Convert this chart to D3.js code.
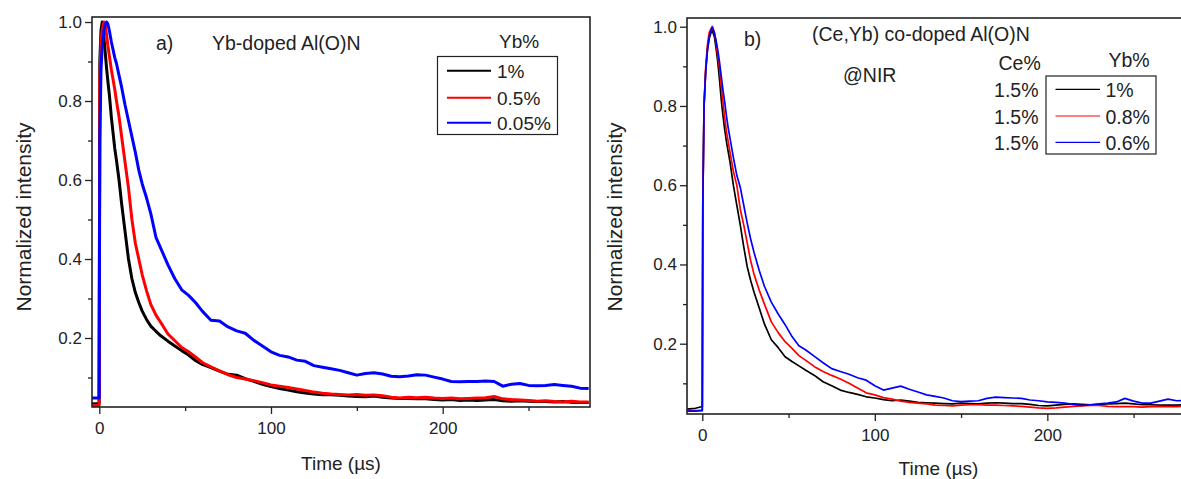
<!DOCTYPE html>
<html><head><meta charset="utf-8">
<script src="https://cdn.jsdelivr.net/npm/d3@7"></script>
<style>
html,body{margin:0;padding:0;background:#fff;}
svg text{font-family:Arial,"Liberation Sans",sans-serif;fill:#222;}
</style></head>
<body><svg id="c" width="1181" height="479"></svg>
<script>
// ---------- Panel a data: Yb-doped Al(O)N ----------
const timeA = [-4.2,-0.1,0.3,1,1.7,2.7,3.5,4.3,5,6,7,8,9,10,11.5,13,15,17,19,21,23,25,27.5,30,33,36,40,44,48,52,56,60,65,70,75,80,85,90,95,100,105,110,115,120,125,130,135,140,145,150,155,160,165,170,175,180,185,190,195,200,205,210,215,220,225,230,235,240,245,250,255,260,265,270,275,280,285];
const ybA_1 = [0.033,0.034,0.90,0.98,1.0,0.96,0.92,0.88,0.85,0.81,0.76,0.72,0.68,0.65,0.60,0.54,0.47,0.40,0.35,0.315,0.29,0.268,0.247,0.23,0.217,0.205,0.192,0.18,0.168,0.157,0.143,0.133,0.125,0.116,0.108,0.106,0.097,0.09,0.083,0.077,0.072,0.068,0.064,0.061,0.058,0.056,0.056,0.055,0.053,0.052,0.051,0.053,0.05,0.048,0.047,0.047,0.046,0.046,0.044,0.043,0.044,0.042,0.043,0.042,0.043,0.044,0.041,0.040,0.041,0.040,0.039,0.039,0.038,0.039,0.037,0.037,0.037];
const ybA_05 = [0.029,0.029,0.85,0.95,0.98,1.0,0.99,0.965,0.94,0.91,0.88,0.855,0.83,0.80,0.76,0.71,0.645,0.58,0.50,0.44,0.40,0.36,0.32,0.285,0.258,0.238,0.21,0.193,0.176,0.165,0.152,0.138,0.127,0.117,0.107,0.10,0.096,0.092,0.087,0.081,0.078,0.075,0.071,0.067,0.063,0.06,0.058,0.057,0.056,0.057,0.055,0.056,0.054,0.05,0.048,0.05,0.049,0.05,0.048,0.047,0.048,0.046,0.047,0.048,0.049,0.052,0.046,0.044,0.043,0.042,0.040,0.041,0.039,0.038,0.040,0.038,0.038];
const ybA_005 = [0.048,0.048,0.70,0.88,0.94,0.98,0.995,1.0,0.995,0.975,0.95,0.93,0.91,0.895,0.865,0.835,0.79,0.75,0.71,0.67,0.625,0.59,0.555,0.515,0.455,0.425,0.385,0.35,0.322,0.308,0.29,0.268,0.245,0.243,0.228,0.218,0.212,0.194,0.18,0.165,0.156,0.152,0.144,0.141,0.13,0.126,0.122,0.118,0.112,0.106,0.11,0.112,0.109,0.103,0.102,0.104,0.107,0.106,0.101,0.096,0.09,0.089,0.09,0.09,0.091,0.09,0.078,0.083,0.085,0.08,0.079,0.08,0.082,0.08,0.078,0.073,0.072];
const namesA = ["1%","0.5%","0.05%"];

// ---------- Panel b data: (Ce,Yb) co-doped Al(O)N ----------
const timeB = [-8.8,-4,-0.5,0,0.3,1,2,3,4,5,5.8,7,8,9,10,11,12,13,14,15,16,18,20,22,24,26,28,30,33,36,40,44,48,52,56,60,65,70,75,80,85,90,95,100,105,110,115,120,125,130,135,140,145,150,155,160,165,170,175,180,185,190,195,200,205,210,215,220,225,230,235,240,245,250,255,260,265,270,275,280,285];
const ybB_1 = [0.035,0.037,0.041,0.041,0.55,0.80,0.89,0.94,0.97,0.985,0.99,0.975,0.945,0.91,0.865,0.815,0.775,0.74,0.71,0.685,0.66,0.60,0.55,0.50,0.445,0.395,0.36,0.33,0.29,0.25,0.21,0.19,0.167,0.155,0.144,0.133,0.12,0.104,0.094,0.083,0.077,0.072,0.066,0.063,0.059,0.056,0.058,0.055,0.052,0.051,0.05,0.049,0.048,0.05,0.049,0.048,0.05,0.051,0.05,0.049,0.049,0.047,0.044,0.043,0.045,0.047,0.048,0.047,0.046,0.047,0.048,0.049,0.05,0.048,0.046,0.046,0.045,0.045,0.045,0.046,0.045];
const ybB_08 = [0.03,0.031,0.032,0.032,0.55,0.80,0.90,0.955,0.985,0.995,1.0,0.985,0.96,0.925,0.895,0.85,0.81,0.77,0.735,0.71,0.685,0.635,0.60,0.54,0.50,0.455,0.41,0.375,0.335,0.30,0.255,0.228,0.205,0.188,0.17,0.158,0.142,0.13,0.12,0.111,0.10,0.088,0.076,0.071,0.064,0.06,0.055,0.052,0.05,0.048,0.045,0.044,0.043,0.045,0.046,0.046,0.045,0.045,0.044,0.043,0.042,0.04,0.038,0.037,0.038,0.04,0.042,0.043,0.044,0.044,0.042,0.041,0.041,0.041,0.04,0.041,0.042,0.041,0.041,0.042,0.041];
const ybB_06 = [0.03,0.03,0.031,0.031,0.55,0.80,0.89,0.945,0.975,0.99,1.0,0.985,0.965,0.94,0.91,0.875,0.84,0.81,0.775,0.745,0.72,0.67,0.625,0.595,0.55,0.505,0.465,0.43,0.385,0.345,0.305,0.275,0.248,0.218,0.195,0.184,0.168,0.152,0.137,0.13,0.123,0.114,0.108,0.094,0.083,0.088,0.093,0.085,0.078,0.071,0.067,0.063,0.056,0.054,0.055,0.056,0.062,0.065,0.064,0.063,0.062,0.058,0.056,0.053,0.052,0.05,0.047,0.044,0.046,0.048,0.05,0.053,0.062,0.055,0.05,0.05,0.055,0.06,0.056,0.057,0.056];
const namesB = ["1%","0.8%","0.6%"];
const ceB = ["1.5%","1.5%","1.5%"];

const colors = ["#000000","#ff0000","#0000ff"];
const yMajor = [0.2,0.4,0.6,0.8,1.0];
const yMinor = [0.1,0.3,0.5,0.7,0.9];
const xMajor = [0,100,200];
const xMinor = [50,150,250];

const svg = d3.select("#c");
const FONT_TICK = 17;

function panel(o){
  const g = svg.append("g");
  const x = d3.scaleLinear().domain(o.xd).range([o.l,o.r]);
  const y = d3.scaleLinear().domain(o.yd).range([o.b,o.t]);
  const cid = "clip"+o.id;
  svg.append("clipPath").attr("id",cid).append("rect")
    .attr("x",o.l).attr("y",o.t).attr("width",o.r-o.l).attr("height",o.b-o.t);
  const line = d3.line().x(d=>x(d[0])).y(d=>y(d[1]));
  o.series.forEach((s,i)=>{
    g.append("path").datum(o.time.map((t,k)=>[t,s[k]]))
      .attr("clip-path","url(#"+cid+")")
      .attr("fill","none").attr("stroke",colors[i]).attr("stroke-width",o.lw)
      .attr("stroke-linejoin","round").attr("d",line);
  });
  const ax = (gen, tr)=>{
    const a = g.append("g").attr("transform",tr).call(gen);
    a.select(".domain").remove();
    a.selectAll("line").attr("stroke","#222").attr("stroke-width",1.3);
    a.selectAll("text").attr("font-size",FONT_TICK).attr("fill","#222")
      .attr("font-family","Arial, 'Liberation Sans', sans-serif");
    return a;
  };
  ax(d3.axisLeft(y).tickValues(yMajor).tickFormat(d3.format(".1f")).tickSize(7).tickPadding(3),`translate(${o.l},0)`);
  ax(d3.axisLeft(y).tickValues(yMinor).tickFormat("").tickSize(4),`translate(${o.l},0)`);
  ax(d3.axisBottom(x).tickValues(xMajor).tickFormat(d3.format("d")).tickSize(7).tickPadding(8),`translate(0,${o.b})`);
  ax(d3.axisBottom(x).tickValues(xMinor).tickFormat("").tickSize(4),`translate(0,${o.b})`);
  g.append("rect").attr("x",o.l).attr("y",o.t).attr("width",o.r-o.l).attr("height",o.b-o.t)
    .attr("fill","none").attr("stroke","#222").attr("stroke-width",1.6);
  g.append("text").attr("x",(o.l+o.r)/2).attr("y",o.xtY).attr("text-anchor","middle")
    .attr("font-size",19).text("Time (\u00b5s)");
  g.append("text").attr("transform",`translate(${o.ytX},217) rotate(-90)`).attr("text-anchor","middle")
    .attr("font-size",21).text("Normalized intensity");
  return {g,x,y};
}

// Panel a
const pa = panel({id:"a", l:92, r:590, t:17, b:407, xd:[-4.25,285.8], yd:[0.0253,1.0127],
  time:timeA, series:[ybA_1,ybA_05,ybA_005], lw:3, xtY:470, ytX:31});
pa.g.append("text").attr("x",156).attr("y",50).attr("font-size",19.5).text("a)");
pa.g.append("text").attr("x",212).attr("y",50).attr("font-size",19.5).text("Yb-doped Al(O)N");
pa.g.append("text").attr("x",499).attr("y",48).attr("font-size",19).text("Yb%");
pa.g.append("rect").attr("x",437.5).attr("y",56.5).attr("width",120).attr("height",78)
  .attr("fill","#fff").attr("stroke","#222").attr("stroke-width",1.2);
namesA.forEach((n,i)=>{
  const yy = [70.7,97.7,122.7][i];
  pa.g.append("line").attr("x1",447).attr("x2",491).attr("y1",yy).attr("y2",yy)
    .attr("stroke",colors[i]).attr("stroke-width",2);
  pa.g.append("text").attr("x",497).attr("y",yy+7.5).attr("font-size",19).text(n);
});

// Panel b
const pb = panel({id:"b", l:687, r:1190, t:18, b:414, xd:[-8.87,282.7], yd:[0.0226,1.022],
  time:timeB, series:[ybB_1,ybB_08,ybB_06], lw:1.7, xtY:475, ytX:622});
pb.g.append("text").attr("x",744).attr("y",46).attr("font-size",19.5).text("b)");
pb.g.append("text").attr("x",812).attr("y",41).attr("font-size",19.5).text("(Ce,Yb) co-doped Al(O)N");
pb.g.append("text").attr("x",843).attr("y",81.5).attr("font-size",19.5).text("@NIR");
pb.g.append("text").attr("x",998.5).attr("y",69.5).attr("font-size",19.5).text("Ce%");
pb.g.append("text").attr("x",1108.5).attr("y",67).attr("font-size",19.5).text("Yb%");
pb.g.append("rect").attr("x",1046).attr("y",76).attr("width",110).attr("height",78)
  .attr("fill","#fff").attr("stroke","#222").attr("stroke-width",1.2);
namesB.forEach((n,i)=>{
  const yy = [89.3,116,142.3][i];
  pb.g.append("line").attr("x1",1055.5).attr("x2",1100).attr("y1",yy).attr("y2",yy)
    .attr("stroke",colors[i]).attr("stroke-width",1.2);
  pb.g.append("text").attr("x",1105.5).attr("y",yy+8).attr("font-size",19.5).text(n);
  pb.g.append("text").attr("x",1038.5).attr("y",yy+7.5).attr("text-anchor","end")
    .attr("font-size",19.5).text(ceB[i]);
});
</script></body></html>
